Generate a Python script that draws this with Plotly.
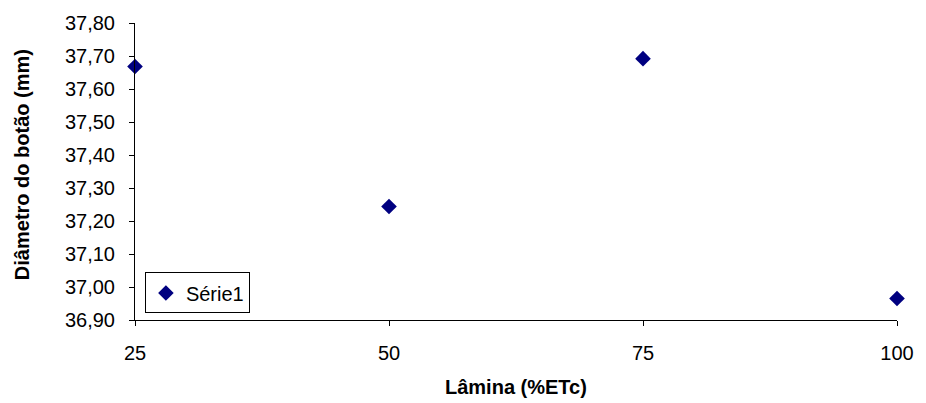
import plotly.graph_objects as go

# Irrigation depth (% ETc) vs. bud diameter (mm)
lamina = [25, 50, 75, 100]
diametro = [37.668, 37.244, 37.692, 36.965]
x_ticks = [25, 50, 75, 100]
y_ticks = [36.90, 37.00, 37.10, 37.20, 37.30, 37.40, 37.50, 37.60, 37.70, 37.80]

font_family = "Liberation Sans, Arial, sans-serif"

fig = go.Figure()
fig.add_trace(go.Scatter(
    x=lamina, y=diametro, mode="markers", name="Série1",
    marker=dict(symbol="diamond", size=12, color="#000080"),
    cliponaxis=False, showlegend=True,
))

fig.update_layout(
    width=926, height=403,
    margin=dict(l=135, r=23, t=20, b=83),
    paper_bgcolor="white", plot_bgcolor="white",
    separators=",.",
    font=dict(family=font_family, color="black", size=20),
    showlegend=True,
    legend=dict(
        x=0.013, y=0.022, xanchor="left", yanchor="bottom",
        bgcolor="white", bordercolor="black", borderwidth=1,
        font=dict(size=20), itemwidth=30,
        tracegroupgap=0,
    ),
    xaxis=dict(
        range=[25, 100], tickmode="array", tickvals=x_ticks,
        ticktext=[str(v) for v in x_ticks],
        showgrid=False, zeroline=False, showline=True, linecolor="black",
        linewidth=1, ticks="outside", ticklen=5, tickcolor="black",
        ticklabelstandoff=10,
    ),
    yaxis=dict(
        range=[36.90, 37.80], tickmode="array", tickvals=y_ticks,
        tickformat=".2f",
        showgrid=False, zeroline=False, showline=True, linecolor="black",
        linewidth=1, ticks="outside", ticklen=5, tickcolor="black",
        ticklabelstandoff=10,
    ),
    annotations=[
        dict(text="<b>Lâmina (%ETc)</b>", xref="paper", yref="paper",
             x=0.5, y=-0.225, xanchor="center", yanchor="middle",
             showarrow=False, font=dict(size=20)),
        dict(text="<b>Diâmetro do botão (mm)</b>", xref="paper", yref="paper",
             x=-0.149, y=0.523, xanchor="center", yanchor="middle",
             textangle=-90, showarrow=False, font=dict(size=20)),
    ],
)

fig.write_html("out.html")
